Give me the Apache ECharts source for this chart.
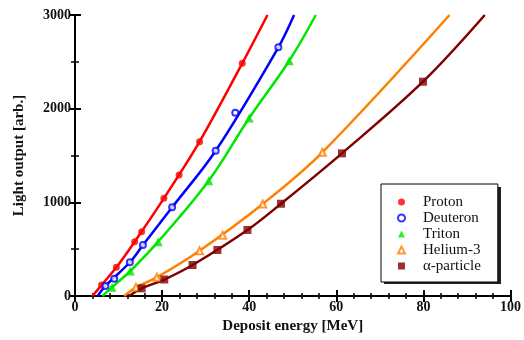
<!DOCTYPE html>
<html>
<head>
<meta charset="utf-8">
<script src="https://cdn.jsdelivr.net/npm/echarts@6/dist/echarts.min.js"></script>
<style>
  html, body { margin: 0; padding: 0; background: #fff; }
  #chart { width: 524px; height: 340px; }
</style>
</head>
<body>
<div id="chart"></div>
<script>
// measured points [deposit energy MeV, light output]
var protonPts = [[6.1, 117], [9.5, 306], [13.7, 580], [15.3, 686], [20.4, 1043], [23.9, 1292], [28.6, 1648], [38.4, 2484]];
var deuteronPts = [[7.0, 107], [9.0, 185], [12.6, 360], [15.6, 544], [22.3, 947], [32.3, 1551], [36.8, 1957], [46.7, 2655]];
var tritonPts = [[8.5, 93], [12.7, 267], [19.1, 580], [30.7, 1231], [40.0, 1900], [49.2, 2512]];
var helium3Pts = [[14.0, 93], [18.8, 200], [28.6, 484], [33.9, 648], [43.1, 983], [56.8, 1534]];
var alphaPts = [[15.3, 82], [20.5, 176], [27.0, 331], [32.7, 491], [39.6, 705], [47.3, 985], [61.3, 1523], [79.9, 2288]];

// fitted curves (ends at axis edges)
var protonFit = [[4.0, 0], [6.1, 117], [9.5, 306], [13.7, 580], [20.4, 1043], [28.6, 1648], [38.4, 2484], [44.2, 3000]];
var deuteronFit = [[5.2, 0], [7.0, 107], [12.6, 360], [15.6, 544], [22.3, 947], [32.3, 1551], [46.7, 2655], [50.3, 3000]];
var tritonFit = [[6.3, 0], [8.5, 93], [12.7, 267], [19.1, 580], [30.7, 1231], [40.0, 1900], [49.2, 2512], [55.3, 3000]];
var helium3Fit = [[11.3, 0], [14.0, 93], [18.8, 200], [28.6, 484], [43.1, 983], [56.8, 1534], [86.0, 3000]];
var alphaFit = [[12.4, 0], [15.3, 82], [20.5, 176], [27.0, 331], [39.6, 705], [47.3, 985], [61.3, 1523], [79.9, 2288], [94.1, 3000]];

var names = ['Proton', 'Deuteron', 'Triton', 'Helium-3', '\u03b1-particle'];
var colors = ['#ff0000', '#0000ff', '#00e600', '#ff8000', '#800000'];
var symbols = ['circle', 'emptyCircle', 'triangle', 'emptyTriangle', 'rect'];
var sizes = [7, 6, 9, 7, 8];
var pts = [protonPts, deuteronPts, tritonPts, helium3Pts, alphaPts];
var fits = [protonFit, deuteronFit, tritonFit, helium3Fit, alphaFit];

var serif = 'Liberation Serif';
var series = [];
fits.forEach(function (d, i) {
  series.push({
    name: names[i] + ' fit',
    type: 'line',
    data: d,
    smooth: 0.35,
    showSymbol: false,
    symbol: 'none',
    lineStyle: { color: colors[i], width: 2.5 },
    z: 2,
    silent: true
  });
});
pts.forEach(function (d, i) {
  series.push({
    name: names[i],
    type: 'scatter',
    data: d,
    symbol: symbols[i],
    symbolSize: sizes[i],
    itemStyle: { color: colors[i], borderColor: colors[i], borderWidth: symbols[i].indexOf('empty') === 0 ? 1.5 : 0 },
    z: 3
  });
});

var option = {
  animation: false,
  backgroundColor: '#fff',
  grid: { left: 75, right: 12, top: 15, bottom: 44 },
  // legend drop shadow
  graphic: [{
    type: 'rect',
    left: 384, top: 187,
    shape: { width: 117, height: 97 },
    style: { fill: '#222' },
    z: 10
  }],
  legend: {
    data: names,
    orient: 'vertical',
    left: 381,
    top: 184,
    padding: [10, 17, 8, 16],
    itemWidth: 7,
    itemHeight: 7,
    itemGap: 0,
    backgroundColor: '#fff',
    borderColor: '#000',
    borderWidth: 1,
    z: 20,
    textStyle: { fontFamily: serif, fontSize: 15, color: '#111', lineHeight: 16, padding: [0, 0, 0, 13] }
  },
  xAxis: [{
    type: 'value',
    min: 0, max: 100, interval: 20,
    name: 'Deposit energy [MeV]',
    nameLocation: 'middle',
    nameGap: 22,
    nameTextStyle: { fontFamily: serif, fontWeight: 'bold', fontSize: 15, color: '#111' },
    axisLine: { show: true, lineStyle: { color: '#000', width: 2 } },
    axisTick: { show: true, inside: true, length: 6, lineStyle: { color: '#000', width: 2 } },
    minorTick: { show: true, splitNumber: 5, length: 3, lineStyle: { color: '#000', width: 1.5 } },
    axisLabel: { fontFamily: serif, fontWeight: 'bold', fontSize: 14, color: '#111', margin: 4 },
    splitLine: { show: false }
  }, {
    type: 'value',
    position: 'top',
    min: 0, max: 100, interval: 20,
    axisLine: { show: true, lineStyle: { color: '#000', width: 2 } },
    axisTick: { show: true, inside: true, length: 6, lineStyle: { color: '#000', width: 2 } },
    minorTick: { show: true, splitNumber: 5, length: 3, lineStyle: { color: '#000', width: 1.5 } },
    axisLabel: { show: false },
    splitLine: { show: false }
  }],
  yAxis: [{
    type: 'value',
    min: 0, max: 3000, interval: 1000,
    name: 'Light output [arb.]',
    nameLocation: 'middle',
    nameGap: 48,
    nameTextStyle: { fontFamily: serif, fontWeight: 'bold', fontSize: 15, color: '#111' },
    axisLine: { show: true, lineStyle: { color: '#000', width: 2 } },
    axisTick: { show: true, inside: true, length: 6, lineStyle: { color: '#000', width: 2 } },
    minorTick: { show: true, splitNumber: 2, length: 4, lineStyle: { color: '#000', width: 1.5 } },
    axisLabel: { fontFamily: serif, fontWeight: 'bold', fontSize: 14, color: '#111', margin: 4, formatter: function (v) { return String(v); } },
    splitLine: { show: false }
  }, {
    type: 'value',
    position: 'right',
    min: 0, max: 3000, interval: 1000,
    axisLine: { show: true, lineStyle: { color: '#000', width: 2 } },
    axisTick: { show: true, inside: true, length: 6, lineStyle: { color: '#000', width: 2 } },
    minorTick: { show: true, splitNumber: 2, length: 4, lineStyle: { color: '#000', width: 1.5 } },
    axisLabel: { show: false },
    splitLine: { show: false }
  }],
  series: series
};

var chart = echarts.init(document.getElementById('chart'), null, { renderer: 'canvas' });
chart.setOption(option);
</script>
</body>
</html>
